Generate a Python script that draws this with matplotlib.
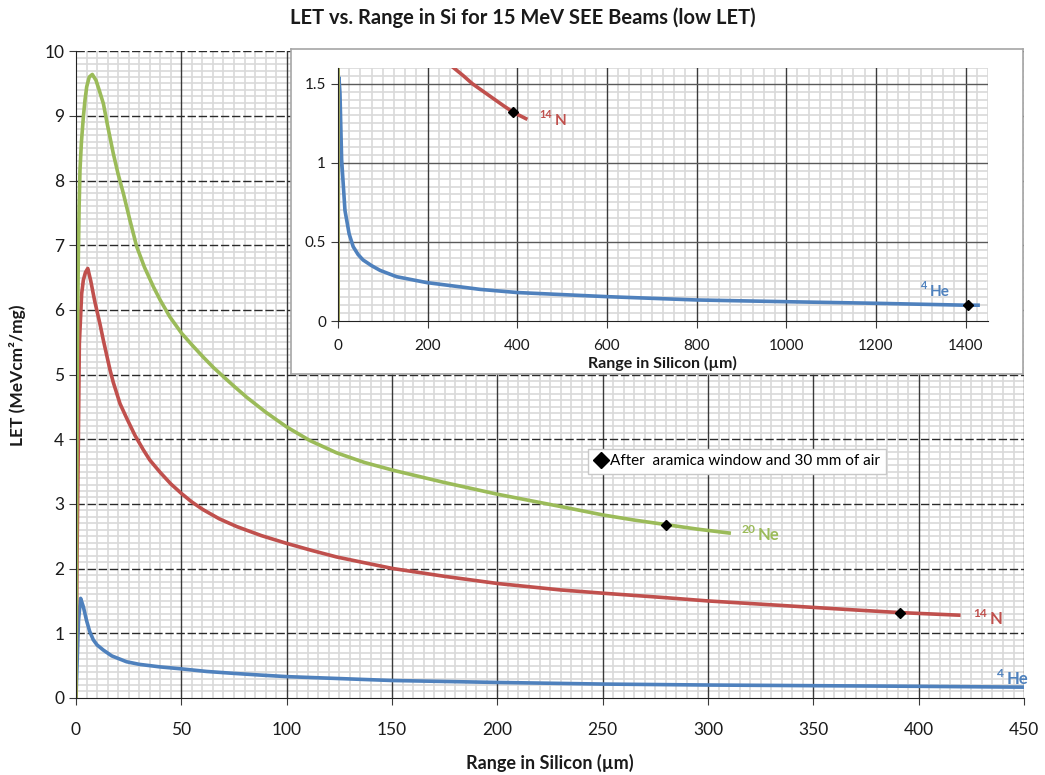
import matplotlib.pyplot as plt
from matplotlib.lines import Line2D
from matplotlib.ticker import MultipleLocator

plt.rcParams['font.family'] = ['Lato', 'DejaVu Sans']

# LET curves in Si (range in um, LET in MeV cm2/mg), main chart
he_x = [0, 0.5, 1.2, 2.2, 3.5, 5, 6.5, 8.2, 10, 13, 17, 24, 30, 40, 50, 62, 75, 87, 100,
        125, 150, 200, 250, 300, 350, 400, 450]
he_y = [0, 0.5, 1.2, 1.54, 1.41, 1.2, 1.03, 0.9, 0.82, 0.74, 0.65, 0.56, 0.52, 0.48, 0.45,
        0.41, 0.38, 0.355, 0.33, 0.30, 0.27, 0.24, 0.215, 0.20, 0.19, 0.18, 0.167]

n_x = [0, 0.5, 1.1, 1.6, 2.7, 3.5, 4.5, 5.6, 7, 8.2, 9.0, 11.4, 13, 16.1, 17.7, 20.9, 24,
       28, 31.9, 35, 39.9, 45, 50.1, 55, 60.4, 68, 76.3, 88, 100, 112, 123.7, 137, 150.6,
       175, 200, 230, 250, 280, 300, 330, 350, 370, 391, 405, 419]
n_y = [0, 2.2, 3.9, 5.48, 6.25, 6.46, 6.58, 6.64, 6.45, 6.25, 6.12, 5.78, 5.53, 5.08, 4.88,
       4.55, 4.33, 4.06, 3.84, 3.68, 3.49, 3.31, 3.16, 3.03, 2.91, 2.77, 2.65, 2.51, 2.39,
       2.28, 2.18, 2.09, 2.0, 1.88, 1.77, 1.67, 1.62, 1.55, 1.50, 1.44, 1.40, 1.36, 1.32,
       1.30, 1.28]

ne_x = [0, 0.3, 0.6, 1.1, 1.5, 1.9, 2.6, 3.5, 4.3, 5.1, 6.3, 7.75, 9.5, 11, 13, 15, 17.7,
        20, 22.5, 25.5, 28.8, 32.5, 36.7, 40, 44.6, 50.1, 55, 60.4, 65.2, 69.9, 75, 81, 90,
        100, 111, 123.7, 137, 150.6, 175, 200, 230, 250, 265, 280, 295, 310]
ne_y = [0, 2.8, 5.2, 6.77, 7.6, 8.16, 8.6, 8.98, 9.25, 9.45, 9.6, 9.64, 9.55, 9.4, 9.19,
        8.85, 8.42, 8.1, 7.80, 7.40, 6.98, 6.66, 6.36, 6.15, 5.89, 5.64, 5.46, 5.27, 5.11,
        4.97, 4.82, 4.65, 4.42, 4.19, 3.98, 3.79, 3.64, 3.52, 3.33, 3.15, 2.96, 2.83, 2.75,
        2.68, 2.61, 2.55]

# He as read on the inset (full range)
he_in_x = [0, 0.5, 1.2, 2.2, 4.5, 8.2, 15.6, 25, 34, 45, 56, 75, 94, 131, 198, 317, 400,
           600, 800, 1000, 1200, 1400, 1428]
he_in_y = [0, 0.5, 1.2, 1.54, 1.44, 1.02, 0.70, 0.55, 0.47, 0.42, 0.386, 0.35, 0.32, 0.28,
           0.243, 0.20, 0.18, 0.154, 0.133, 0.122, 0.112, 0.10, 0.10]

# points "after aramica window and 30 mm of air"
mark_ne = (280, 2.68)
mark_n = (391, 1.32)
mark_he = (1406, 0.10)

c_he = '#4F81BD'
c_n = '#C0504D'
c_ne = '#9BBB59'
txt = '#1a1a1a'
LW = 2.6

fig = plt.figure(figsize=(10.45, 7.75), dpi=100)


def style_grid(ax, major_x, major_y, minor_x, minor_y, xlim, ylim, ydash):
    ax.set_xlim(*xlim)
    ax.set_ylim(*ylim)
    ax.xaxis.set_major_locator(MultipleLocator(major_x))
    ax.yaxis.set_major_locator(MultipleLocator(major_y))
    ax.xaxis.set_minor_locator(MultipleLocator(minor_x))
    ax.yaxis.set_minor_locator(MultipleLocator(minor_y))
    ax.grid(which='minor', color='#d9d9d9', lw=1.2)
    ax.set_axisbelow(True)
    # major grid drawn on top of the minor one
    for v in ax.get_xticks():
        if xlim[0] < v <= xlim[1]:
            ax.axvline(v, color='#3a3a3a', lw=1.0, zorder=0.8)
    for v in ax.get_yticks():
        if ylim[0] < v <= ylim[1]:
            if ydash:
                ax.axhline(v, color='#2a2a2a', lw=1.0, ls=(0, (6, 2)), zorder=0.8)
            else:
                ax.axhline(v, color='#5a5a5a', lw=1.0, zorder=0.8)
    ax.tick_params(which='minor', length=0)
    ax.tick_params(which='major', direction='out', length=5, color='#3a3a3a',
                   labelcolor=txt)
    for s in ['top', 'right']:
        ax.spines[s].set_visible(False)
    for s in ['left', 'bottom']:
        ax.spines[s].set_color('#222222')


def iso_label(ax, x, y, mass, sym, color, big=12):
    ax.annotate(mass, (x, y), xytext=(-1, 5), textcoords='offset points', ha='right',
                va='baseline', fontsize=big * 0.72, color=color, weight='bold')
    ax.annotate(sym, (x, y), xytext=(1, 0), textcoords='offset points', ha='left',
                va='baseline', fontsize=big, color=color, weight='bold')


# main chart
ax = fig.add_axes([0.0727, 0.0994, 0.9073, 0.8346])
style_grid(ax, 50, 1, 5, 0.1, (0, 450), (0, 10), True)
ax.plot(he_x, he_y, color=c_he, lw=LW, solid_joinstyle='round')
ax.plot(n_x, n_y, color=c_n, lw=LW, solid_joinstyle='round')
ax.plot(ne_x, ne_y, color=c_ne, lw=LW, solid_joinstyle='round')
ax.plot(*mark_ne, 'D', color='black', ms=5)
ax.plot(*mark_n, 'D', color='black', ms=5)
ax.tick_params(labelsize=12.5)
ax.tick_params(axis='x', pad=12)
iso_label(ax, 323, 2.44, '20', 'Ne', c_ne)
iso_label(ax, 433, 1.14, '14', 'N', c_n)
iso_label(ax, 441, 0.22, '4', 'He', c_he)

handle = Line2D([], [], ls='none', marker='D', color='black', ms=8)
leg = ax.legend([handle], ['After  aramica window and 30 mm of air'], loc='upper left',
                bbox_to_anchor=(0.5627, 0.4206), bbox_transform=fig.transFigure,
                fontsize=11, fancybox=False, framealpha=1, edgecolor='#c8c8c8',
                handletextpad=0.1, handlelength=1.0, borderpad=0.35, borderaxespad=0)

fig.text(0.5, 0.977, 'LET vs. Range in Si for 15 MeV SEE Beams (low LET)', ha='center',
         va='center', fontsize=14.5, weight='bold', color=txt)
fig.text(0.526, 0.0155, 'Range in Silicon (\u00b5m)', ha='center', va='center',
         fontsize=13, weight='bold', color=txt)
fig.text(0.017, 0.516, 'LET (MeVcm\u00b2/mg)', ha='center', va='center', rotation=90,
         fontsize=12.5, weight='bold', color=txt)

# inset background panel
bg = fig.add_axes([0.2785, 0.5174, 0.7005, 0.4196])
bg.set_xticks([])
bg.set_yticks([])
for s in bg.spines.values():
    s.set_color('#a6a6a6')
    s.set_linewidth(1.2)

ins = fig.add_axes([0.3234, 0.5858, 0.622, 0.3265])
style_grid(ins, 200, 0.5, 25, 0.05, (0, 1450), (0, 1.6), False)
ins.plot(he_in_x, he_in_y, color=c_he, lw=LW, solid_joinstyle='round')
ins.plot(n_x, n_y, color=c_n, lw=LW, solid_joinstyle='round')
ins.plot(ne_x, ne_y, color=c_ne, lw=LW, solid_joinstyle='round')
ins.plot(*mark_n, 'D', color='black', ms=5)
ins.plot(*mark_he, 'D', color='black', ms=5)
ins.set_yticks([0, 0.5, 1, 1.5])
ins.set_yticklabels(['0', '0.5', '1', '1.5'])
ins.tick_params(labelsize=11)
ins.tick_params(axis='x', pad=8)
iso_label(ins, 480, 1.24, '14', 'N', c_n, big=11)
iso_label(ins, 1317, 0.158, '4', 'He', c_he, big=11)
fig.text(0.6335, 0.5316, 'Range in Silicon (\u00b5m)', ha='center', va='center',
         fontsize=11.5, weight='bold', color=txt)

fig.savefig('out.png', dpi=100)
